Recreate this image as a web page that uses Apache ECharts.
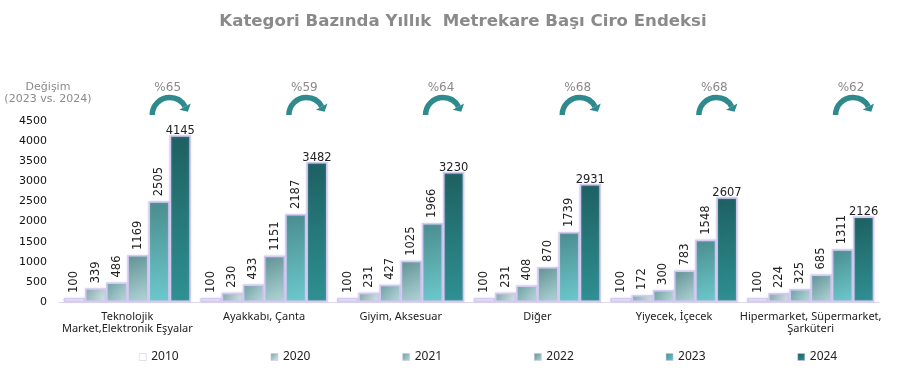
<!DOCTYPE html>
<html><head><meta charset="utf-8">
<script src="https://cdn.jsdelivr.net/npm/echarts@6/dist/echarts.min.js"></script>
<style>html,body{margin:0;padding:0;background:#fff}#c{width:908px;height:372px}</style>
</head><body><div id="c"></div>
<script>
const categories = ["Teknolojik\nMarket,Elektronik Eşyalar", "Ayakkabı, Çanta", "Giyim, Aksesuar", "Diğer", "Yiyecek, İçecek", "Hipermarket, Süpermarket,\nŞarküteri"];
const years = ["2010", "2020", "2021", "2022", "2023", "2024"];
const v2010 = [100, 100, 100, 100, 100, 100];
const v2020 = [339, 230, 231, 231, 172, 224];
const v2021 = [486, 433, 427, 408, 300, 325];
const v2022 = [1169, 1151, 1025, 870, 783, 685];
const v2023 = [2505, 2187, 1966, 1739, 1548, 1311];
const v2024 = [4145, 3482, 3230, 2931, 2607, 2126];
const changePct = [65, 59, 64, 68, 68, 62];
const yTicks = [0, 500, 1000, 1500, 2000, 2500, 3000, 3500, 4000, 4500];

const seriesValues = [v2010, v2020, v2021, v2022, v2023, v2024];
const grad = (a, b) => new echarts.graphic.LinearGradient(0, 0, 1, 1, [{offset: 0, color: a}, {offset: 1, color: b}]);
const fills = [
  '#ffffff',
  grad('#7fa5a7', '#dbe9ea'),
  grad('#6a9fa2', '#bcdadb'),
  grad('#5e9193', '#b3d6d8'),
  grad('#4a8b8d', '#6ccacd'),
  grad('#1d5f60', '#2f9193')
];

const chart = echarts.init(document.getElementById('c'));
const series = seriesValues.map((vals, i) => ({
  name: years[i],
  type: 'bar',
  data: vals,
  barGap: '0%',
  barCategoryGap: '7%',
  itemStyle: {
    color: fills[i],
    borderColor: '#d3cbf0',
    borderWidth: 1.5,
    shadowColor: 'rgba(190,175,240,0.5)',
    shadowBlur: 2
  },
  label: {
    show: true,
    position: 'top',
    rotate: i === 5 ? 0 : 90,
    align: i === 5 ? 'center' : 'left',
    verticalAlign: 'middle',
    distance: i === 5 ? 4 : 5,
    color: '#222',
    fontSize: 11.5,
    fontFamily: 'DejaVu Sans'
  }
}));

series.push({
  name: 'arrows',
  type: 'custom',
  clip: false,
  silent: true,
  data: changePct.map((p, i) => [i, p]),
  renderItem: function (params, api) {
    const base = api.coord([api.value(0), 4500]);
    const w = api.size([1, 0])[0];
    const cx = base[0] + w * 0.31;
    const cy = base[1] - 6;
    const r = 17.5;
    const end = Math.PI * 1.84;
    const ex = cx + r * Math.cos(end), ey = cy + r * Math.sin(end);
    const tx = -Math.sin(end), ty = Math.cos(end);
    const nx = Math.cos(end), ny = Math.sin(end);
    const col = '#2f8a8d';
    return {
      type: 'group',
      children: [
        {type: 'arc', shape: {cx: cx, cy: cy, r: r, startAngle: Math.PI, endAngle: end, clockwise: true},
         style: {stroke: col, lineWidth: 5.5, fill: null}},
        {type: 'polygon', shape: {points: [
          [ex + tx * 6, ey + ty * 6],
          [ex + nx * 6.5, ey + ny * 6.5],
          [ex - nx * 6.5, ey - ny * 6.5]
        ]}, style: {fill: col}},
        {type: 'text', x: cx - 2, y: cy - 27, style: {text: '%' + api.value(1), fill: '#8a8a8a', font: '12px "DejaVu Sans"', align: 'center', verticalAlign: 'middle'}}
      ]
    };
  }
});

chart.setOption({
  animation: false,
  title: {
    text: 'Kategori Bazında Yıllık  Metrekare Başı Ciro Endeksi',
    left: 458, textAlign: 'center', top: 8,
    textStyle: {color: '#8a8a8a', fontSize: 16.6, fontWeight: 'bold', fontFamily: 'DejaVu Sans'}
  },
  graphic: [{
    type: 'text', x: 48, y: 81,
    style: {text: 'Değişim\n(2023 vs. 2024)', fill: '#8a8a8a', font: '11px "DejaVu Sans"', align: 'center', lineHeight: 12}
  }],
  legend: {
    data: years,
    left: 134, top: 346,
    itemWidth: 7, itemHeight: 7, itemGap: 92,
    icon: 'rect',
    textStyle: {color: '#222', fontSize: 12, fontFamily: 'Noto Sans'},
    itemStyle: {borderColor: '#c8c0e0', borderWidth: 0.5}
  },
  grid: {left: 59, right: 29, top: 121, bottom: 70, containLabel: false},
  xAxis: {
    type: 'category',
    data: categories,
    axisTick: {show: false},
    axisLine: {lineStyle: {color: '#ddd8ee'}},
    axisLabel: {color: '#222', fontSize: 11, fontFamily: 'Noto Sans', interval: 0, lineHeight: 12, margin: 9}
  },
  yAxis: {
    type: 'value',
    min: yTicks[0], max: yTicks[yTicks.length - 1], interval: 500,
    splitLine: {show: false},
    axisLine: {show: false},
    axisTick: {show: false},
    axisLabel: {color: '#111', fontSize: 11, fontFamily: 'DejaVu Sans', margin: 12, formatter: v => String(v)}
  },
  series: series
});
</script></body></html>
